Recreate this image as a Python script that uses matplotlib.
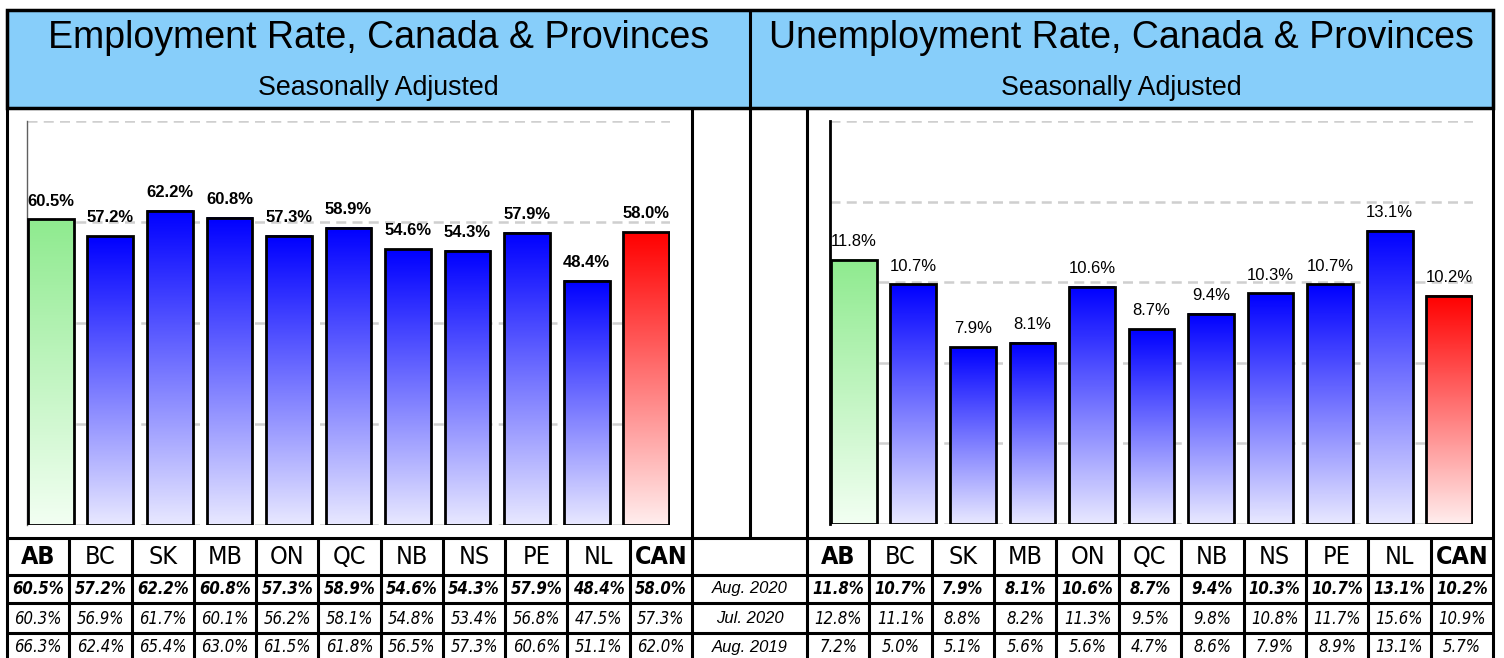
import numpy as np
import matplotlib
matplotlib.use('Agg')
import matplotlib.pyplot as plt
from matplotlib.patches import Rectangle
from matplotlib import font_manager

# data
provinces = ['AB', 'BC', 'SK', 'MB', 'ON', 'QC', 'NB', 'NS', 'PE', 'NL', 'CAN']
row_labels = ['Aug. 2020', 'Jul. 2020', 'Aug. 2019']
emp_aug20 = [60.5, 57.2, 62.2, 60.8, 57.3, 58.9, 54.6, 54.3, 57.9, 48.4, 58.0]
emp_jul20 = [60.3, 56.9, 61.7, 60.1, 56.2, 58.1, 54.8, 53.4, 56.8, 47.5, 57.3]
emp_aug19 = [66.3, 62.4, 65.4, 63.0, 61.5, 61.8, 56.5, 57.3, 60.6, 51.1, 62.0]
unemp_aug20 = [11.8, 10.7, 7.9, 8.1, 10.6, 8.7, 9.4, 10.3, 10.7, 13.1, 10.2]
unemp_jul20 = [12.8, 11.1, 8.8, 8.2, 11.3, 9.5, 9.8, 10.8, 11.7, 15.6, 10.9]
unemp_aug19 = [7.2, 5.0, 5.1, 5.6, 5.6, 4.7, 8.6, 7.9, 8.9, 13.1, 5.7]
emp_ticks = [0, 20, 40, 60, 80]
unemp_ticks = [0, 3.6, 7.2, 10.8, 14.4, 18]

W, H = 1504, 658
SANS = ['Liberation Sans', 'DejaVu Sans']

# narrow font for the table if one is installed
_names = {f.name for f in font_manager.fontManager.ttflist}
NARROW = ['Liberation Sans Narrow'] if 'Liberation Sans Narrow' in _names else SANS
NARROW_STRETCH = 'normal'
if NARROW is SANS and any(f.name == 'DejaVu Sans' and f.stretch == 'condensed'
                          for f in font_manager.fontManager.ttflist):
    NARROW = ['DejaVu Sans']
    NARROW_STRETCH = 'condensed'

# top / bottom colours of the bar gradients
GREEN = ((0.56, 0.92, 0.56), (0.95, 1.0, 0.95))
BLUE = ((0.0, 0.0, 1.0), (0.91, 0.91, 1.0))
RED = ((1.0, 0.0, 0.0), (1.0, 0.93, 0.93))


def box(x0, y0, x1, y1):
    # pixel box -> figure fraction
    return [x0 / W, 1 - y1 / H, (x1 - x0) / W, (y1 - y0) / H]


def gradient(top, bottom, n=200):
    t = np.linspace(0, 1, n)[:, None]
    return (np.array(top)[None, :] * (1 - t) + np.array(bottom)[None, :] * t)[:, None, :]


def bar_chart(ax, values, ticks, bold, spine_color, spine_lw):
    x = np.arange(len(values))
    bars = ax.bar(x, values, width=0.77, facecolor='none', edgecolor='black',
                  linewidth=2, zorder=3)
    for i, p in enumerate(bars.patches):
        if provinces[i] == 'AB':
            top, bot = GREEN
        elif provinces[i] == 'CAN':
            top, bot = RED
        else:
            top, bot = BLUE
        x0, w, h = p.get_x(), p.get_width(), p.get_height()
        ax.imshow(gradient(top, bot), extent=[x0, x0 + w, 0, h], aspect='auto',
                  origin='upper', zorder=2)
        ax.annotate(f'{values[i]:.1f}%', (x0 + w / 2, h), xytext=(0, 10),
                    textcoords='offset points', ha='center', va='baseline',
                    fontsize=12, family=SANS,
                    fontweight='bold' if bold else 'normal')
    ax.set_xlim(-0.4, len(values) - 1 + 0.4)
    ax.set_ylim(ticks[0], ticks[-1])
    ax.set_yticks(ticks)
    ax.yaxis.grid(True, color='#cfcfcf', linestyle=(0, (4, 2.5)), linewidth=1.8)
    ax.set_axisbelow(True)
    ax.tick_params(left=False, labelleft=False, bottom=False, labelbottom=False)
    for s in ['top', 'right', 'bottom']:
        ax.spines[s].set_visible(False)
    ax.spines['left'].set_color(spine_color)
    ax.spines['left'].set_linewidth(spine_lw)
    ax.set_facecolor('none')


fig = plt.figure(figsize=(W / 100, H / 100), dpi=100)

# frame / table layer in pixel coordinates
fr = fig.add_axes([0, 0, 1, 1])
fr.set_xlim(0, W)
fr.set_ylim(H, 0)
fr.axis('off')

fr.add_patch(Rectangle((7, 10), 1486, 98, facecolor='#87CEFA', edgecolor='black',
                       linewidth=2.5, zorder=1))
lk = dict(color='black', linewidth=2.2, solid_capstyle='butt', zorder=2)
for xv in [7, 1493]:
    fr.plot([xv, xv], [10, H + 5], **lk)
fr.plot([750, 750], [10, 538], **lk)
for xv in [692, 807]:
    fr.plot([xv, xv], [108, H + 5], **lk)
for yv in [538, 575, 603, 633]:
    fr.plot([7, 1493], [yv, yv], **lk)

left_cols = np.linspace(7, 692, 12)
right_cols = np.linspace(807, 1493, 12)
for xv in list(left_cols[1:-1]) + list(right_cols[1:-1]):
    fr.plot([xv, xv], [538, H + 5], **lk)

fr.text(378.5, 38, 'Employment Rate, Canada & Provinces', ha='center', va='center',
        fontsize=27, family=SANS)
fr.text(378.5, 88, 'Seasonally Adjusted', ha='center', va='center',
        fontsize=19.3, family=SANS)
fr.text(1121.5, 38, 'Unemployment Rate, Canada & Provinces', ha='center', va='center',
        fontsize=27, family=SANS)
fr.text(1121.5, 88, 'Seasonally Adjusted', ha='center', va='center',
        fontsize=19.3, family=SANS)

row_y = [557, 589, 618.5, 647.5]
for cols, rows in [(left_cols, [emp_aug20, emp_jul20, emp_aug19]),
                   (right_cols, [unemp_aug20, unemp_jul20, unemp_aug19])]:
    centers = (cols[:-1] + cols[1:]) / 2
    for i, name in enumerate(provinces):
        fr.text(centers[i], row_y[0], name, ha='center', va='center', fontsize=18,
                family=NARROW, fontstretch=NARROW_STRETCH,
                fontweight='bold' if name in ('AB', 'CAN') else 'normal')
        for r, vals in enumerate(rows):
            fr.text(centers[i], row_y[r + 1], f'{vals[i]:.1f}%', ha='center',
                    va='center', fontsize=12, family=NARROW,
                    fontstretch=NARROW_STRETCH, style='italic',
                    fontweight='bold' if r == 0 else 'normal')
for r, lab in enumerate(row_labels):
    fr.text(749.5, row_y[r + 1], lab, ha='center', va='center', fontsize=12,
            family=SANS, style='italic')

ax1 = fig.add_axes(box(27, 121, 670, 525))
bar_chart(ax1, emp_aug20, emp_ticks, True, '#606060', 1.0)
ax2 = fig.add_axes(box(830, 121, 1473, 524))
bar_chart(ax2, unemp_aug20, unemp_ticks, False, 'black', 2.0)

fig.savefig('out.png', dpi=100)
